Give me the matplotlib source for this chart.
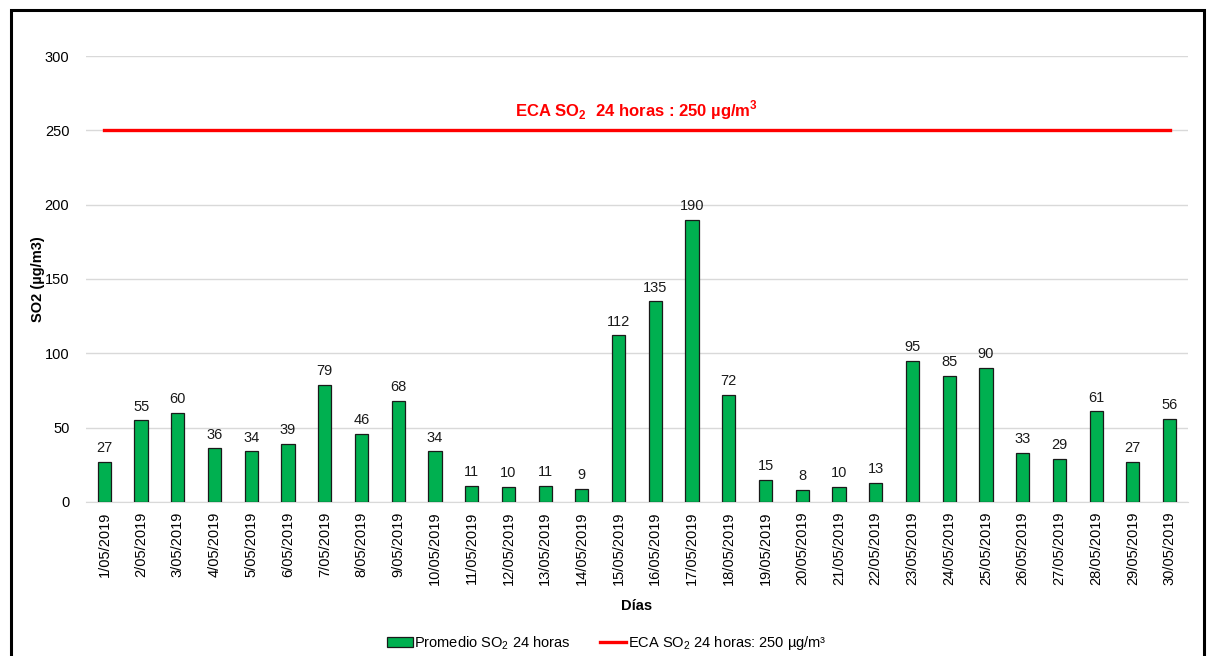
import matplotlib.pyplot as plt
from matplotlib.patches import Rectangle
import numpy as np

plt.rcParams['font.family'] = ['Liberation Sans', 'DejaVu Sans']
plt.rcParams['mathtext.fontset'] = 'custom'
plt.rcParams['mathtext.rm'] = 'Liberation Sans'
plt.rcParams['mathtext.bf'] = 'Liberation Sans:bold'

days = [f"{d}/05/2019" for d in range(1, 31)]
so2 = [27, 55, 60, 36, 34, 39, 79, 46, 68, 34, 11, 10, 11, 9, 112,
       135, 190, 72, 15, 8, 10, 13, 95, 85, 90, 33, 29, 61, 27, 56]
eca = 250

fig = plt.figure(figsize=(12.08, 6.56), dpi=100)
ax = fig.add_axes([0.0712, 0.2348, 0.9122, 0.6798])

# outer frame of the chart
fig.patches.append(Rectangle((11 / 1208, -0.05), 1193 / 1208, 1.05 - 10 / 656,
                             transform=fig.transFigure, fill=False,
                             edgecolor='black', linewidth=2.2))

x = np.arange(len(days))
bars = ax.bar(x, so2, width=0.36, color='#00b050', edgecolor='#1a1a1a',
              linewidth=0.9, label='Promedio SO$_2$ 24 horas', zorder=3)
for xi, v in zip(x, so2):
    ax.text(xi, v + 4.5, str(v), ha='center', va='bottom', fontsize=10.5,
            color='#1a1a1a')
line, = ax.plot([x[0], x[-1]], [eca, eca], color='#ff0000', linewidth=2.4,
                label='ECA SO$_2$ 24 horas: 250 µg/m³', zorder=4)
ax.text((x[0] + x[-1]) / 2, eca + 5.5,
        r'ECA SO$_\mathbf{2}$  24 horas : 250 µg/m$^\mathbf{3}$',
        ha='center', va='bottom', color='#ff0000', fontsize=12,
        fontweight='bold')

ax.set_xlim(-0.5, len(days) - 0.5)
ax.set_ylim(0, 300)
ax.set_yticks(range(0, 301, 50))
ax.set_xticks(x)
ax.set_xticklabels(days, rotation=90, fontsize=10.5)
ax.tick_params(axis='y', labelsize=10.5, length=0, pad=12)
ax.tick_params(axis='x', length=0, pad=7)
ax.grid(axis='y', color='#d9d9d9', linewidth=1)
ax.set_axisbelow(True)
for s in ['top', 'right', 'left']:
    ax.spines[s].set_visible(False)
ax.spines['bottom'].set_color('#d9d9d9')

ax.set_ylabel('SO2 (µg/m3)', fontsize=10.5, fontweight='bold')
ax.yaxis.set_label_coords(-0.037, 0.5)
ax.set_xlabel('Días', fontsize=10.5, fontweight='bold', labelpad=10)

fig.legend(handles=[bars, line], loc='center', bbox_to_anchor=(0.502, 0.02),
           ncol=2, frameon=False, fontsize=10.5, handlelength=1.8,
           handletextpad=0.1, columnspacing=2.0)

fig.savefig('out.png', dpi=100)
